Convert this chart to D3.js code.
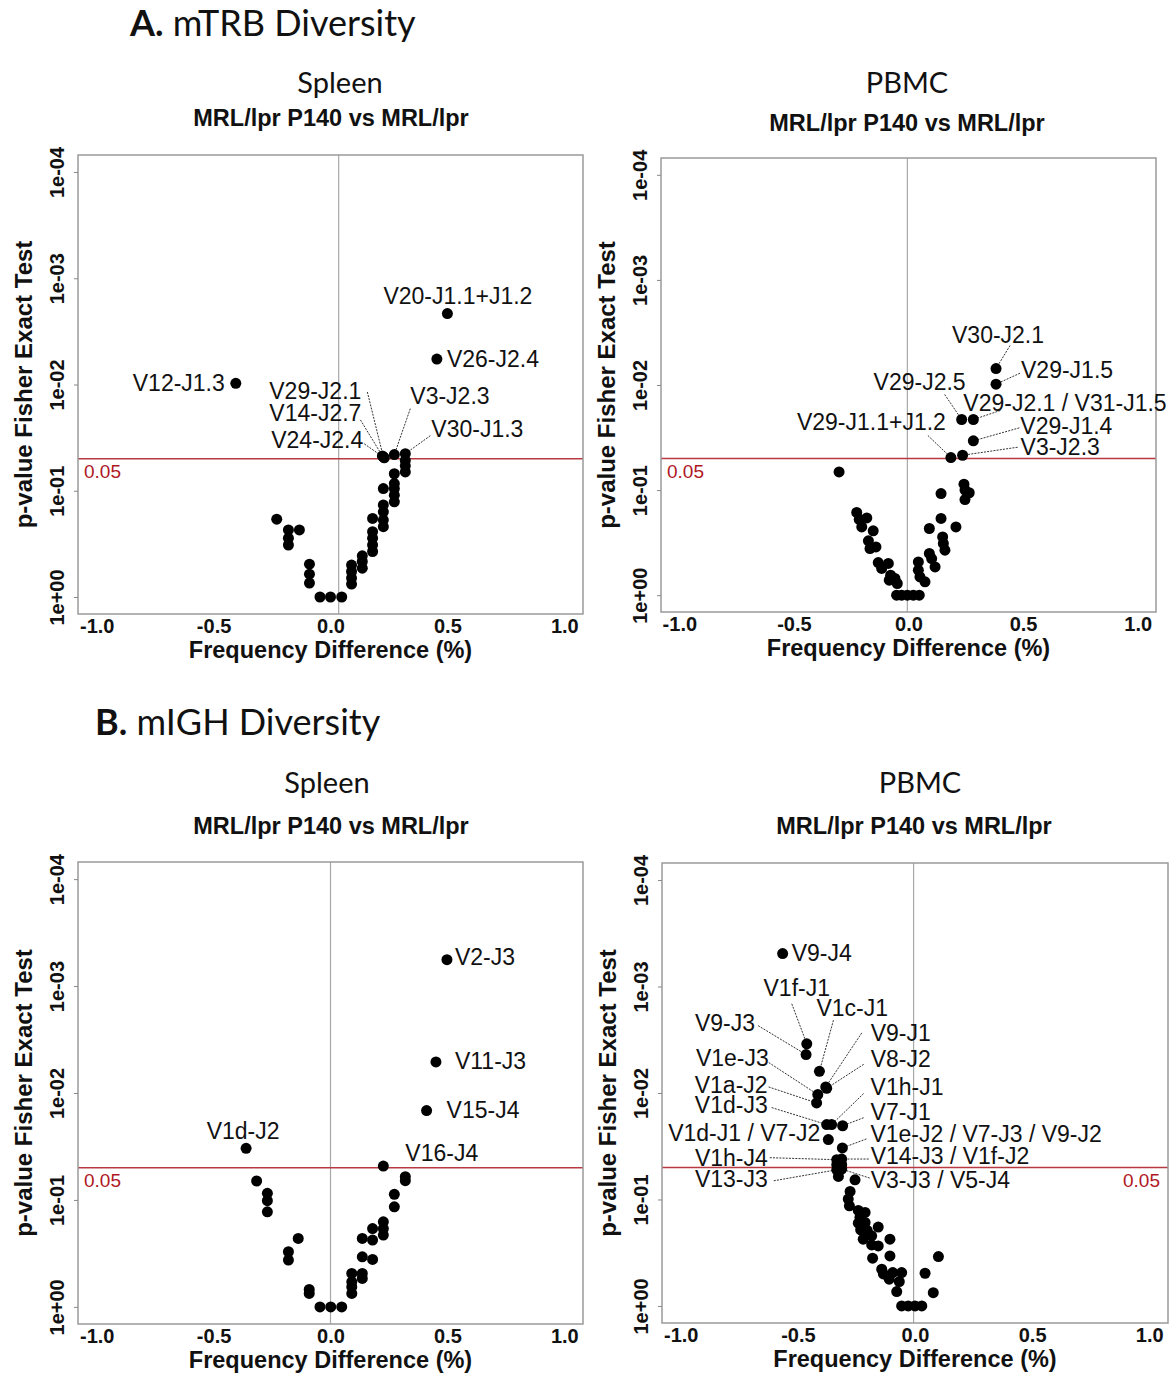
<!DOCTYPE html>
<html><head><meta charset="utf-8">
<script src="https://cdn.jsdelivr.net/npm/d3@7"></script>
<style>body{margin:0;background:#fff} svg{display:block}</style>
</head><body>
<svg id="chart" width="1175" height="1374"></svg>
<script>
// ---------------- DATA ----------------
const xTicks = [-1.0, -0.5, 0.0, 0.5, 1.0];
const xTickLabels = ['-1.0', '-0.5', '0.0', '0.5', '1.0'];
const yTicksP = [1, 0.1, 0.01, 0.001, 0.0001];
const yTickLabels = ['1e+00', '1e-01', '1e-02', '1e-03', '1e-04'];
const sigLevel = 0.05;

// A. mTRB Spleen
const trbSpleenLabeled = [
  {gene: 'V20-J1.1+J1.2', diff: 0.50, p: 0.00215},
  {gene: 'V26-J2.4', diff: 0.455, p: 0.00577},
  {gene: 'V12-J1.3', diff: -0.405, p: 0.00975},
  {gene: 'V29-J2.1', diff: 0.226, p: 0.0481},
  {gene: 'V14-J2.7', diff: 0.222, p: 0.0470},
  {gene: 'V24-J2.4', diff: 0.230, p: 0.0490},
  {gene: 'V3-J2.3', diff: 0.273, p: 0.0457},
  {gene: 'V30-J1.3', diff: 0.320, p: 0.0448}
];
const trbSpleenDiff = [-0.23, -0.18, -0.18, -0.18, -0.133, -0.09, -0.09, -0.09, -0.045, 0.0, 0.048,
  0.09, 0.09, 0.09, 0.09, 0.136, 0.136, 0.136, 0.18, 0.18, 0.18, 0.18, 0.18,
  0.226, 0.226, 0.226, 0.226, 0.226, 0.273, 0.273, 0.273, 0.273, 0.273, 0.32, 0.32, 0.32];
const trbSpleenP = [0.185, 0.234, 0.280, 0.324, 0.234, 0.491, 0.610, 0.740, 1, 1, 1,
  0.501, 0.575, 0.664, 0.755, 0.410, 0.463, 0.535, 0.182, 0.243, 0.280, 0.324, 0.373,
  0.0953, 0.136, 0.158, 0.189, 0.218, 0.0692, 0.0855, 0.0953, 0.110, 0.127, 0.0518, 0.0583, 0.0665];

// A. mTRB PBMC
const trbPbmcLabeled = [
  {gene: 'V30-J2.1', diff: 0.382, p: 0.00697},
  {gene: 'V29-J1.5', diff: 0.382, p: 0.00982},
  {gene: 'V29-J2.5', diff: 0.232, p: 0.0213},
  {gene: 'V29-J2.1 / V31-J1.5', diff: 0.283, p: 0.0213},
  {gene: 'V29-J1.1+J1.2', diff: 0.185, p: 0.0490},
  {gene: 'V29-J1.4', diff: 0.283, p: 0.0340},
  {gene: 'V3-J2.3', diff: 0.236, p: 0.0466}
];
const trbPbmcDiff = [-0.303, 0.242, 0.2465, 0.265, 0.2465, 0.142, 0.142, 0.091, 0.207,
  0.149, 0.152, 0.159, 0.091, 0.101, 0.116, 0.043, 0.043, 0.050, 0.072,
  -0.052, -0.030, -0.005, 0.021, 0.047,
  -0.226, -0.215, -0.182, -0.204, -0.154, -0.175, -0.142, -0.168, -0.132, -0.117, -0.088, -0.078, -0.059, -0.049, -0.084];
const trbPbmcP = [0.0671, 0.0879, 0.100, 0.106, 0.123, 0.108, 0.186, 0.232, 0.224,
  0.279, 0.322, 0.373, 0.401, 0.448, 0.538, 0.482, 0.578, 0.670, 0.747,
  1, 1, 1, 1, 1,
  0.163, 0.190, 0.184, 0.224, 0.244, 0.304, 0.347, 0.360, 0.489, 0.557, 0.499, 0.645, 0.693, 0.774, 0.720];

// B. mIGH Spleen
const ighSpleenLabeled = [
  {gene: 'V2-J3', diff: 0.498, p: 0.000567},
  {gene: 'V11-J3', diff: 0.451, p: 0.00512},
  {gene: 'V15-J4', diff: 0.411, p: 0.0146},
  {gene: 'V1d-J2', diff: -0.361, p: 0.0329},
  {gene: 'V16-J4', diff: 0.226, p: 0.0482}
];
const ighSpleenDiff = [-0.316, -0.270, -0.270, -0.270, -0.138, -0.180, -0.180, -0.091, -0.091,
  -0.045, 0.001, 0.048, 0.091, 0.091, 0.091, 0.091, 0.136, 0.136, 0.136, 0.136,
  0.180, 0.180, 0.180, 0.226, 0.226, 0.226, 0.273, 0.273, 0.320, 0.320];
const ighSpleenP = [0.0665, 0.0867, 0.1017, 0.129, 0.229, 0.305, 0.365, 0.687, 0.749,
  1, 1, 1, 0.486, 0.583, 0.650, 0.749, 0.229, 0.340, 0.486, 0.542,
  0.185, 0.237, 0.360, 0.160, 0.185, 0.213, 0.0886, 0.116, 0.0607, 0.0661];

// B. mIGH PBMC
const ighPbmcLabeled = [
  {gene: 'V9-J4', diff: -0.565, p: 0.000491},
  {gene: 'V1f-J1', diff: -0.462, p: 0.00345},
  {gene: 'V9-J3', diff: -0.465, p: 0.00436},
  {gene: 'V1c-J1', diff: -0.408, p: 0.00625},
  {gene: 'V9-J1', diff: -0.381, p: 0.00877},
  {gene: 'V8-J2', diff: -0.377, p: 0.00904},
  {gene: 'V1e-J3', diff: -0.415, p: 0.01035},
  {gene: 'V1a-J2', diff: -0.420, p: 0.0124},
  {gene: 'V1d-J3', diff: -0.377, p: 0.0198},
  {gene: 'V1h-J1', diff: -0.356, p: 0.0198},
  {gene: 'V7-J1', diff: -0.309, p: 0.0203},
  {gene: 'V1d-J1 / V7-J2', diff: -0.370, p: 0.0274},
  {gene: 'V1e-J2 / V7-J3 / V9-J2', diff: -0.310, p: 0.0328},
  {gene: 'V14-J3 / V1f-J2', diff: -0.313, p: 0.0417},
  {gene: 'V1h-J4', diff: -0.334, p: 0.0423},
  {gene: 'V13-J3', diff: -0.334, p: 0.0526},
  {gene: 'V3-J3 / V5-J4', diff: -0.313, p: 0.0518}
];
const ighPbmcDiff = [-0.334, -0.313, -0.327, -0.256,
  -0.277, -0.285, -0.280, -0.242, -0.213, -0.235, -0.242, -0.213, -0.232, -0.204, -0.185, -0.157,
  -0.221, -0.185, -0.157, -0.107, -0.181, -0.107, -0.142, -0.135, -0.095, -0.057, -0.110, -0.067, -0.078,
  -0.057, -0.029, 0.0, 0.029, 0.043, 0.078, 0.100];
const ighPbmcP = [0.0472, 0.0472, 0.0608, 0.0653,
  0.0841, 0.0991, 0.1146, 0.1268, 0.1324, 0.1465, 0.1668, 0.1645, 0.1928, 0.1956, 0.2195, 0.1818,
  0.236, 0.267, 0.273, 0.236, 0.356, 0.339, 0.452, 0.500, 0.486, 0.486, 0.561, 0.590, 0.733,
  1, 1, 1, 1, 0.493, 0.750, 0.344];

// ---------------- LAYOUT ----------------
const labelLayout = {
  trbSpleen: {
    'V20-J1.1+J1.2': {dx: -64, dy: -18, a: 'start'},
    'V26-J2.4': {dx: 10, dy: 0, a: 'start'},
    'V12-J1.3': {dx: -11, dy: 0, a: 'end'},
    'V29-J2.1': {dx: -22, dy: -66, a: 'end', lx: -16, ly: -65},
    'V14-J2.7': {dx: -21, dy: -43, a: 'end', lx: -22, ly: -36},
    'V24-J2.4': {dx: -21, dy: -18, a: 'end', lx: -20, ly: -14},
    'V3-J2.3': {dx: 16, dy: -59, a: 'start', lx: 16, ly: -46},
    'V30-J1.3': {dx: 26, dy: -25, a: 'start', lx: 25, ly: -18}
  },
  trbPbmc: {
    'V30-J2.1': {dx: 2, dy: -34, a: 'middle', lx: 14, ly: -23},
    'V29-J1.5': {dx: 25, dy: -14, a: 'start', lx: 24, ly: -11},
    'V29-J2.5': {dx: 4, dy: -38, a: 'end', lx: -17, ly: -25},
    'V29-J2.1 / V31-J1.5': {dx: -10, dy: -17, a: 'start', lx: 27, ly: -9},
    'V29-J1.1+J1.2': {dx: -5, dy: -36, a: 'end', lx: -23, ly: -22},
    'V29-J1.4': {dx: 47, dy: -15, a: 'start', lx: 46, ly: -13},
    'V3-J2.3': {dx: 58, dy: -8, a: 'start', lx: 55, ly: -8}
  },
  ighSpleen: {
    'V2-J3': {dx: 8, dy: -3, a: 'start'},
    'V11-J3': {dx: 19, dy: -1, a: 'start'},
    'V15-J4': {dx: 20, dy: -1, a: 'start'},
    'V1d-J2': {dx: -3, dy: -17, a: 'middle'},
    'V16-J4': {dx: 22, dy: -13, a: 'start'}
  },
  ighPbmc: {
    'V9-J4': {dx: 9, dy: -1, a: 'start'},
    'V1f-J1': {dx: -10, dy: -56, a: 'middle', lx: -15, ly: -40},
    'V9-J3': {dx: -51, dy: -32, a: 'end', lx: -48, ly: -29},
    'V1c-J1': {dx: -3, dy: -63, a: 'start', lx: 14, ly: -51},
    'V9-J1': {dx: 45, dy: -54, a: 'start', lx: 36, ly: -54},
    'V8-J2': {dx: 44, dy: -29, a: 'start', lx: 37, ly: -24},
    'V1e-J3': {dx: -49, dy: -37, a: 'end', lx: -49, ly: -32},
    'V1a-J2': {dx: -49, dy: -18, a: 'end', lx: -48, ly: -16},
    'V1d-J3': {dx: -59, dy: -20, a: 'end', lx: -55, ly: -17},
    'V1h-J1': {dx: 39, dy: -38, a: 'start', lx: 32, ly: -31},
    'V7-J1': {dx: 28, dy: -14, a: 'start', lx: 21, ly: -8},
    'V1d-J1 / V7-J2': {dx: -8, dy: -7, a: 'end'},
    'V1e-J2 / V7-J3 / V9-J2': {dx: 28, dy: -14, a: 'start', lx: 24, ly: -9},
    'V14-J3 / V1f-J2': {dx: 29, dy: -3, a: 'start', lx: 27, ly: 0},
    'V1h-J4': {dx: -69, dy: -2, a: 'end', lx: -67, ly: -2},
    'V13-J3': {dx: -69, dy: 9, a: 'end', lx: -63, ly: 11},
    'V3-J3 / V5-J4': {dx: 29, dy: 11, a: 'start', lx: 28, ly: 9}
  }
};

const panels = [
  {id: 'trbSpleen', box: [78, 155, 583, 614], diff: trbSpleenDiff, p: trbSpleenP, labeled: trbSpleenLabeled,
   zero: 0.035, tissue: 'Spleen', tissueXY: [340, 83], subXY: [331, 118], sigSide: 'left'},
  {id: 'trbPbmc', box: [661, 158, 1156, 612], diff: trbPbmcDiff, p: trbPbmcP, labeled: trbPbmcLabeled,
   zero: -0.005, tissue: 'PBMC', tissueXY: [907, 83], subXY: [907, 123], sigSide: 'left'},
  {id: 'ighSpleen', box: [78, 862, 583, 1324], diff: ighSpleenDiff, p: ighSpleenP, labeled: ighSpleenLabeled,
   zero: 0, tissue: 'Spleen', tissueXY: [327, 783], subXY: [331, 826], sigSide: 'left'},
  {id: 'ighPbmc', box: [662, 863, 1168, 1323], diff: ighPbmcDiff, p: ighPbmcP, labeled: ighPbmcLabeled,
   zero: -0.006, tissue: 'PBMC', tissueXY: [920, 783], subXY: [914, 826], sigSide: 'right'}
];

const ARIAL = "'Liberation Sans', Arial, Helvetica, sans-serif";
const CAL = "Lato, 'Open Sans', sans-serif";
const svg = d3.select('#chart');

// section titles
const secTitles = [
  {letter: 'A.', text: ' mTRB Diversity', x: 130, y: 23},
  {letter: 'B.', text: ' mIGH Diversity', x: 95, y: 722}
];
secTitles.forEach(s => {
  const t = svg.append('text').attr('x', s.x).attr('y', s.y).attr('dy', '0.35em')
    .attr('font-family', CAL).attr('font-size', 36).attr('fill', '#111');
  t.append('tspan').attr('font-weight', 'bold').text(s.letter);
  t.append('tspan').text(s.text);
});

panels.forEach(pn => {
  const [L, T, R, B] = pn.box;
  const x = d3.scaleLinear().domain([-1.08, 1.08]).range([L, R]);
  const y = d3.scaleLog().domain([Math.pow(10, 0.16), Math.pow(10, -4.16)]).range([B, T]);
  const g = svg.append('g');

  // titles
  g.append('text').attr('x', pn.tissueXY[0]).attr('y', pn.tissueXY[1]).attr('dy', '0.35em')
    .attr('text-anchor', 'middle').attr('font-family', CAL).attr('font-size', 29).attr('fill', '#111')
    .text(pn.tissue);
  g.append('text').attr('x', pn.subXY[0]).attr('y', pn.subXY[1]).attr('dy', '0.35em')
    .attr('text-anchor', 'middle').attr('font-family', ARIAL).attr('font-weight', 'bold')
    .attr('font-size', 23.5).attr('fill', '#111').text('MRL/lpr P140 vs MRL/lpr');

  // zero line
  g.append('line').attr('x1', x(pn.zero)).attr('x2', x(pn.zero)).attr('y1', T).attr('y2', B)
    .attr('stroke', '#a8a8a8').attr('stroke-width', 1.2);
  // significance line
  const ys = y(sigLevel);
  g.append('line').attr('x1', L).attr('x2', R).attr('y1', ys).attr('y2', ys)
    .attr('stroke', '#b83a40').attr('stroke-width', 1.6);
  g.append('text')
    .attr('x', pn.sigSide === 'left' ? L + 6 : R - 8).attr('y', ys + 13).attr('dy', '0.35em')
    .attr('text-anchor', pn.sigSide === 'left' ? 'start' : 'end')
    .attr('font-family', ARIAL).attr('font-size', 19).attr('fill', '#b0181f').text('0.05');

  // box
  g.append('rect').attr('x', L).attr('y', T).attr('width', R - L).attr('height', B - T)
    .attr('fill', 'none').attr('stroke', '#9a9a9a').attr('stroke-width', 1.5);

  // y axis
  const ya = g.append('g').attr('transform', `translate(${L},0)`)
    .call(d3.axisLeft(y).tickValues(yTicksP).tickFormat((d, i) => yTickLabels[i]).tickSize(4).tickPadding(0));
  ya.select('.domain').remove();
  ya.selectAll('line').attr('stroke', '#888');
  ya.selectAll('text').attr('x', null).attr('dy', '0.35em')
    .attr('transform', 'translate(-21,0) rotate(-90)').attr('text-anchor', 'middle')
    .attr('font-family', ARIAL).attr('font-weight', 'bold').attr('font-size', 20).attr('fill', '#111');

  // x axis
  const xa = g.append('g').attr('transform', `translate(0,${B})`)
    .call(d3.axisBottom(x).tickValues(xTicks).tickFormat((d, i) => xTickLabels[i]).tickSize(0).tickPadding(0));
  xa.select('.domain').remove();
  xa.selectAll('text').attr('y', 12).attr('dy', '0.35em')
    .attr('font-family', ARIAL).attr('font-weight', 'bold').attr('font-size', 20).attr('fill', '#111');

  // axis titles
  g.append('text').attr('x', (L + R) / 2).attr('y', B + 36).attr('dy', '0.35em')
    .attr('text-anchor', 'middle').attr('font-family', ARIAL).attr('font-weight', 'bold')
    .attr('font-size', 23.5).attr('fill', '#111').text('Frequency Difference (%)');
  g.append('text').attr('transform', `translate(${L - 54},${(T + B) / 2}) rotate(-90)`).attr('dy', '0.35em')
    .attr('text-anchor', 'middle').attr('font-family', ARIAL).attr('font-weight', 'bold')
    .attr('font-size', 24).attr('fill', '#111').text('p-value Fisher Exact Test');

  // leader lines
  const lay = labelLayout[pn.id];
  pn.labeled.forEach(d => {
    const o = lay[d.gene];
    if (o && o.lx !== undefined) {
      g.append('line').attr('x1', x(d.diff) + o.lx).attr('y1', y(d.p) + o.ly)
        .attr('x2', x(d.diff)).attr('y2', y(d.p))
        .attr('stroke', '#333').attr('stroke-width', 1).attr('stroke-dasharray', '2,1.2');
    }
  });

  // points
  const pts = pn.diff.map((v, i) => ({diff: v, p: pn.p[i]})).concat(pn.labeled);
  g.append('g').selectAll('circle').data(pts).join('circle')
    .attr('cx', d => x(d.diff)).attr('cy', d => y(d.p)).attr('r', 5.5).attr('fill', '#000');

  // labels
  pn.labeled.forEach(d => {
    const o = lay[d.gene];
    g.append('text').attr('x', x(d.diff) + o.dx).attr('y', y(d.p) + o.dy).attr('dy', '0.35em')
      .attr('text-anchor', o.a).attr('font-family', ARIAL).attr('font-size', 23).attr('fill', '#111')
      .text(d.gene);
  });
});
</script>
</body></html>
